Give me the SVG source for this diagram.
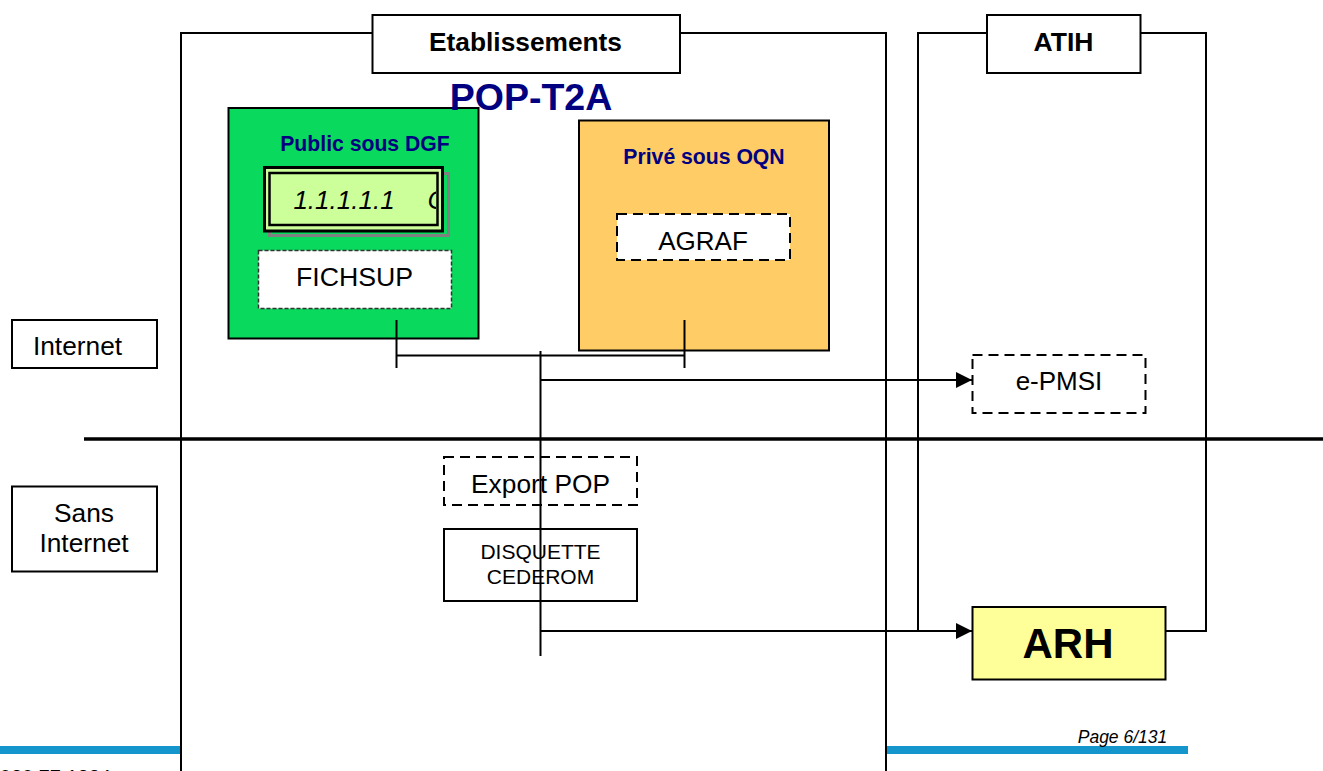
<svg xmlns="http://www.w3.org/2000/svg" width="1323" height="771" viewBox="0 0 1323 771">
<style>
text{font-family:"Liberation Sans",Arial,sans-serif;fill:#000;text-anchor:middle}
.box{fill:#fff;stroke:#000;stroke-width:2}
.dash{fill:#fff;stroke:#000;stroke-width:2;stroke-dasharray:10 6}
.line{fill:none;stroke:#000;stroke-width:2}
.navy{fill:#000080;font-weight:bold}
.b{font-weight:bold}
</style>
<defs><marker id="arrow" markerUnits="userSpaceOnUse" markerWidth="16" markerHeight="16" refX="16" refY="8" orient="auto"><path d="M0 0L16 8L0 16Z" fill="#000"/></marker></defs>
<rect width="1323" height="771" fill="#fff"/>
<g id="footer">
<rect x="0" y="746" width="1188" height="8" fill="#1496cc"/>
<text x="111" y="783.500" style="text-anchor:end" font-size="20">020 77 1234</text>
</g>
<g id="etablissements">
<path d="M181 771V33H886V771" fill="#fff" stroke="#000" stroke-width="2"/>
<rect class="box" x="372.500" y="15" width="307.500" height="58"/>
<text class="b" x="525.500" y="51" font-size="26.300">Etablissements</text>
</g>
<g id="atih">
<path class="line" d="M918 631V33H1206V631H1166"/>
<rect class="box" x="987" y="15" width="153.500" height="58"/>
<text class="b" x="1063.500" y="51" font-size="26.500">ATIH</text>
</g>
<g id="public">
<rect x="228.500" y="108" width="250" height="230.500" fill="#09d95c" stroke="#000" stroke-width="2"/>
<text class="navy" x="365" y="151" font-size="21.200">Public sous DGF</text>
</g>
<g id="pop-t2a"><text class="navy" x="531" y="110" font-size="37.500">POP-T2A</text></g>
<g id="version">
<rect x="269.500" y="173.500" width="179" height="62" fill="none" stroke="#808080" stroke-width="3"/>
<rect x="264.500" y="167.500" width="178" height="63.500" fill="#ccff99" stroke="#000" stroke-width="3"/>
<rect x="269.500" y="173" width="168" height="52" fill="#ccff99" stroke="#000" stroke-width="2.500"/>
<text x="344" y="209" font-size="26" font-style="italic">1.1.1.1.1</text>
<svg x="271" y="175" width="165" height="48" viewBox="271 175 165 48"><text x="437" y="209" font-size="26" font-style="italic">C</text></svg>
</g>
<g id="fichsup">
<rect x="258.500" y="250.500" width="193" height="58" fill="#fff" stroke="#333" stroke-width="1.500" stroke-dasharray="4 2"/>
<text x="354.500" y="286" font-size="26.700">FICHSUP</text>
</g>
<g id="prive">
<rect x="579" y="120.500" width="250" height="230" fill="#ffcc66" stroke="#000" stroke-width="2"/>
<text class="navy" x="704" y="164" font-size="21.200">Privé sous OQN</text>
</g>
<g id="agraf">
<rect class="dash" x="617" y="214" width="173" height="46"/>
<text x="703" y="250" font-size="26">AGRAF</text>
</g>
<g id="internet">
<rect class="box" x="12" y="320" width="145" height="48"/>
<text x="77.500" y="355" font-size="26.300">Internet</text>
</g>
<g id="sans-internet">
<rect class="box" x="12" y="486.500" width="145" height="85"/>
<text x="84" y="522" font-size="26.300">Sans</text>
<text x="84" y="552" font-size="26.300">Internet</text>
</g>
<g id="e-pmsi">
<rect class="dash" x="972.500" y="355" width="173" height="58"/>
<text x="1059" y="390" font-size="26">e-PMSI</text>
</g>
<g id="export-pop">
<rect class="dash" x="444" y="457" width="193" height="48"/>
<text x="540.500" y="493" font-size="26.300">Export POP</text>
</g>
<g id="disquette">
<rect class="box" x="444" y="529" width="193" height="72"/>
<text x="540.500" y="559" font-size="21">DISQUETTE</text>
<text x="540.500" y="584" font-size="21">CEDEROM</text>
</g>
<g id="arh">
<rect x="972.500" y="607" width="193" height="72.500" fill="#ffff99" stroke="#000" stroke-width="2"/>
<text class="b" x="1068" y="658" font-size="42">ARH</text>
</g>
<g id="connectors">
<path class="line" d="M396.500 320V368M684.500 320V368M396.500 355.500H684.500M540.500 351V656"/>
<path class="line" d="M540.500 380H972" marker-end="url(#arrow)"/>
<path class="line" d="M540.500 631H972" marker-end="url(#arrow)"/>
<path d="M84 439H1323" stroke="#000" stroke-width="3.500" fill="none"/>
</g>
<g id="page"><text x="1122.500" y="743" font-size="17.500" font-style="italic">Page 6/131</text></g>
</svg>
